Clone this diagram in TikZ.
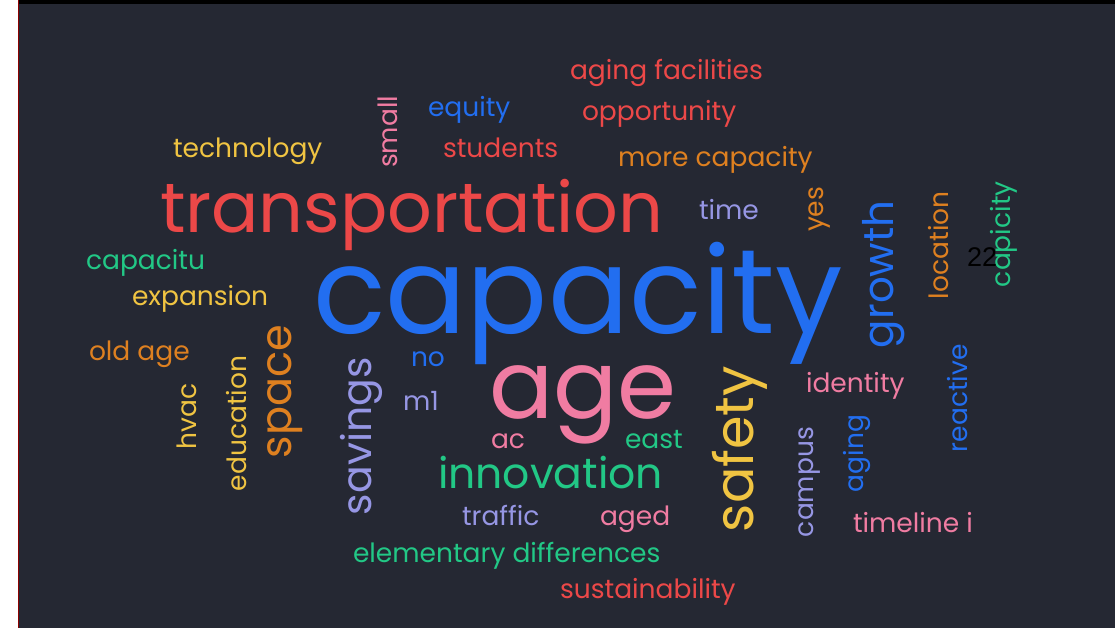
\documentclass[tikz,border=0pt]{standalone}
\usepackage{fontspec}
\setmainfont{Poppins}
\newfontfamily\slidefont{Liberation Sans}

\definecolor{bgdark}{RGB}{37,40,51}
\definecolor{cred}{RGB}{236,72,72}
\definecolor{cblue}{RGB}{34,110,240}
\definecolor{cpink}{RGB}{240,124,162}
\definecolor{cyellow}{RGB}{240,196,66}
\definecolor{corange}{RGB}{222,128,32}
\definecolor{cgreen}{RGB}{34,200,134}
\definecolor{clav}{RGB}{150,150,228}

\tikzset{
  word/.style={anchor=base west, inner sep=0pt, outer sep=0pt,
    font=\fontsize{#1}{#1}\selectfont},
  word/.default=26.5,
  vword/.style={word=#1, rotate=90},
  vword/.default=26.5,
}

\begin{document}
\begin{tikzpicture}[x=1pt, y=-1pt]
        % Frame of the slide
        \useasboundingbox (0,0) rectangle (1115,628);
        \fill[white] (0,0) rectangle (1115,628);
        \fill[bgdark] (19,0) rectangle (1115,628);
        \fill[black] (19,0) rectangle (1115,4);
        \draw[red!55!black, line width=1pt] (18.5,0) -- (18.5,628);

        % Big words
        \node[word=120, cblue] (capacity) at (313,333) {capacity};
        \node[word=70, cred] (transportation) at (160,233) {transportation};
        \node[word=95, cpink] (age) at (489,418) {age};
        \node[word=42.5, cgreen] (innovation) at (438,488) {innovation};
        \node[vword=54, cyellow] (safety) at (753,532) {safety};
        \node[vword=41, clav] (savings) at (371,515) {savings};
        \node[vword=43, corange] (space) at (291,458) {space};
        \node[vword=42, cblue] (growth) at (893,348) {growth};

        % Top row
        \node[word, cred] (agingfac) at (570,80) {aging facilities};
        \node[word, cblue] (equity) at (428,117) {equity};
        \node[word, cred] (opportunity) at (582,121) {opportunity};
        \node[word, cred] (students) at (443,158) {students};
        \node[word, corange] (morecap) at (618,167) {more capacity};
        \node[word, cyellow] (technology) at (173,158) {technology};
        \node[vword, cpink] (small) at (397,168) {small};
        \node[word, clav] (time) at (699,220) {time};

        % Left side
        \node[word, cgreen] (capacitu) at (86,269) {capacitu};
        \node[word, cyellow] (expansion) at (132,305) {expansion};
        \node[word, corange] (oldage) at (89,360) {old age};
        \node[vword, cyellow] (hvac) at (196,449) {hvac};
        \node[vword, cyellow] (education) at (246,491) {education};

        % Middle
        \node[word, cblue] (no) at (411,366) {no};
        \node[word, clav] (mone) at (403,410) {m1};
        \node[word, cpink] (ac) at (491,448) {ac};
        \node[word, cgreen] (east) at (625,448) {east};
        \node[word, clav] (traffic) at (462,525) {traffic};
        \node[word, cpink] (aged) at (600,525) {aged};
        \node[word, cgreen] (elementary) at (353,562) {elementary differences};
        \node[word, cred] (sustainability) at (560,598) {sustainability};

        % Right side
        \node[vword, corange] (yes) at (823,232) {yes};
        \node[vword, corange] (location) at (948,299) {location};
        \node[vword, cgreen] (capicity) at (1010,287) {capicity};
        \node[word, cpink] (identity) at (806,392) {identity};
        \node[vword, cblue] (reactive) at (967,452) {reactive};
        \node[vword, cblue] (aging) at (863,492) {aging};
        \node[vword, clav] (campus) at (813,537) {campus};
        \node[word, cpink] (timeline) at (853,532) {timeline i};

        % Slide number
        \node[anchor=base west, inner sep=0pt, font=\slidefont\fontsize{27}{27}\selectfont, black] (pagenum) at (967,266) {22};
    \end{tikzpicture}
\end{document}
